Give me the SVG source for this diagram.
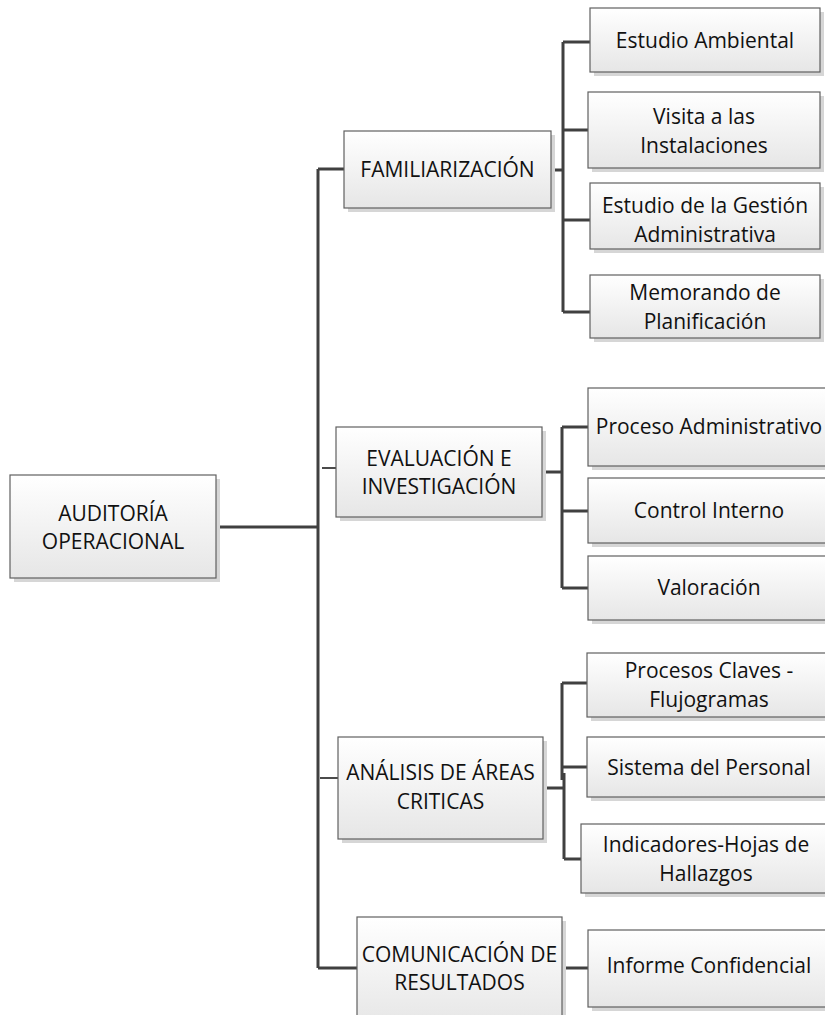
<svg xmlns="http://www.w3.org/2000/svg" width="825" height="1015" viewBox="0 0 825 1015">
<defs>
<linearGradient id="g" x1="0" y1="0" x2="0" y2="1">
<stop offset="0" stop-color="#ffffff"/>
<stop offset="1" stop-color="#e6e6e6"/>
</linearGradient>
<style>
.sh{fill:#d6d6d6;}
.bx{fill:url(#g);stroke:#606060;stroke-width:1.2;}
.t{font-family:"Open Sans","Liberation Sans",sans-serif;font-size:21px;fill:#111;text-anchor:middle;}
.c{fill:none;stroke:#404040;stroke-width:3;}
.s{fill:none;stroke:#111;stroke-width:1.5;}
</style>
</defs>
<rect width="825" height="1015" fill="#ffffff"/>
<g id="connectors">
<path class="c" d="M216 527H318M318 169V968M318 169H344M318 968H357"/>
<path class="s" d="M322 468H336M320 778H338"/>
<path class="c" d="M551 170H563M563 42V312M563 42H590M563 130H588M563 220H590M563 312H590"/>
<path class="c" d="M542 472H562M562 427V588M562 427H588M562 511H588M562 588H588"/>
<path class="c" d="M543 788H564M562 683V780M564 773V859M562 683H587M562 767H587M564 859H581"/>
<path class="c" d="M562 968H588"/>
</g>
<g id="n_root">
<rect class="sh" x="14" y="479" width="206" height="103"/>
<rect class="bx" x="10" y="475" width="206" height="103"/>
<text class="t" x="113" y="521">AUDITORÍA</text>
<text class="t" x="113" y="549">OPERACIONAL</text>
</g>
<g id="n_fam">
<rect class="sh" x="348" y="135" width="207" height="77"/>
<rect class="bx" x="344" y="131" width="207" height="77"/>
<text class="t" x="447.5" y="177">FAMILIARIZACIÓN</text>
</g>
<g id="n_eval">
<rect class="sh" x="340" y="431" width="206" height="90"/>
<rect class="bx" x="336" y="427" width="206" height="90"/>
<text class="t" x="439" y="466">EVALUACIÓN E</text>
<text class="t" x="439" y="494">INVESTIGACIÓN</text>
</g>
<g id="n_anal">
<rect class="sh" x="342" y="741" width="205" height="102"/>
<rect class="bx" x="338" y="737" width="205" height="102"/>
<text class="t" x="440.5" y="780">ANÁLISIS DE ÁREAS</text>
<text class="t" x="440.5" y="809">CRITICAS</text>
</g>
<g id="n_com">
<rect class="sh" x="361" y="921" width="205" height="110"/>
<rect class="bx" x="357" y="917" width="205" height="110"/>
<text class="t" x="459.5" y="962">COMUNICACIÓN DE</text>
<text class="t" x="459.5" y="990">RESULTADOS</text>
</g>
<g id="n_amb">
<rect class="sh" x="594" y="12" width="230" height="64"/>
<rect class="bx" x="590" y="8" width="230" height="64"/>
<text class="t" x="705" y="48">Estudio Ambiental</text>
</g>
<g id="n_vis">
<rect class="sh" x="592" y="96" width="232" height="76"/>
<rect class="bx" x="588" y="92" width="232" height="76"/>
<text class="t" x="704" y="124">Visita a las</text>
<text class="t" x="704" y="153">Instalaciones</text>
</g>
<g id="n_ges">
<rect class="sh" x="594" y="187" width="230" height="66"/>
<rect class="bx" x="590" y="183" width="230" height="66"/>
<text class="t" x="705" y="213">Estudio de la Gestión</text>
<text class="t" x="705" y="242">Administrativa</text>
</g>
<g id="n_mem">
<rect class="sh" x="594" y="279" width="230" height="63"/>
<rect class="bx" x="590" y="275" width="230" height="63"/>
<text class="t" x="705" y="300">Memorando de</text>
<text class="t" x="705" y="329">Planificación</text>
</g>
<g id="n_pro">
<rect class="sh" x="592" y="392" width="243" height="78"/>
<rect class="bx" x="588" y="388" width="243" height="78"/>
<text class="t" x="709" y="434">Proceso Administrativo</text>
</g>
<g id="n_ctl">
<rect class="sh" x="592" y="482" width="243" height="65"/>
<rect class="bx" x="588" y="478" width="243" height="65"/>
<text class="t" x="709" y="518">Control Interno</text>
</g>
<g id="n_val">
<rect class="sh" x="592" y="560" width="243" height="64"/>
<rect class="bx" x="588" y="556" width="243" height="64"/>
<text class="t" x="709" y="595">Valoración</text>
</g>
<g id="n_pcl">
<rect class="sh" x="591" y="657" width="244" height="64"/>
<rect class="bx" x="587" y="653" width="244" height="64"/>
<text class="t" x="709" y="678">Procesos Claves -</text>
<text class="t" x="709" y="707">Flujogramas</text>
</g>
<g id="n_sis">
<rect class="sh" x="591" y="741" width="244" height="60"/>
<rect class="bx" x="587" y="737" width="244" height="60"/>
<text class="t" x="709" y="775">Sistema del Personal</text>
</g>
<g id="n_ind">
<rect class="sh" x="585" y="828" width="250" height="69"/>
<rect class="bx" x="581" y="824" width="250" height="69"/>
<text class="t" x="706" y="852">Indicadores-Hojas de</text>
<text class="t" x="706" y="881">Hallazgos</text>
</g>
<g id="n_inf">
<rect class="sh" x="592" y="934" width="243" height="77"/>
<rect class="bx" x="588" y="930" width="243" height="77"/>
<text class="t" x="709" y="973">Informe Confidencial</text>
</g>
</svg>
